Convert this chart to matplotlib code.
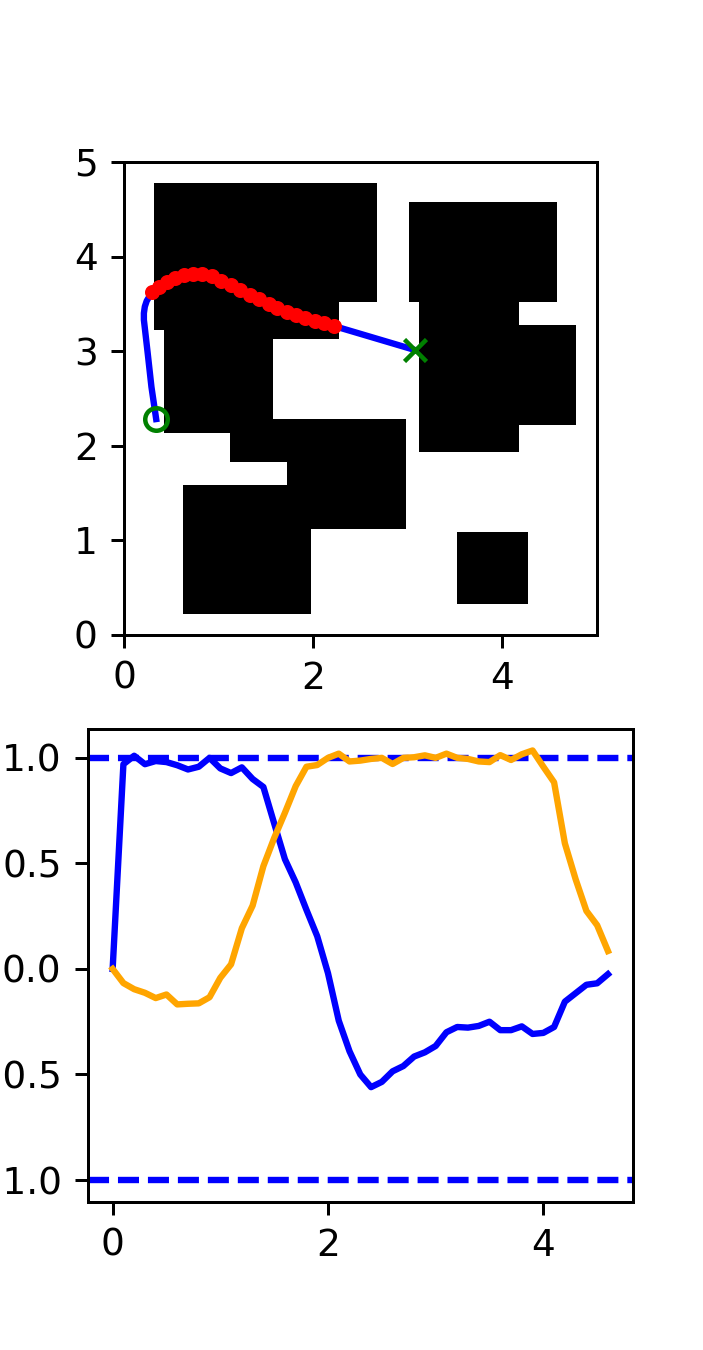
import numpy as np
import matplotlib
matplotlib.use("Agg")
import matplotlib.pyplot as plt
from matplotlib.patches import Rectangle

# obstacles as rectangles: x0, x1, y0, y1
obs_x0 = [0.32, 0.32, 0.42, 0.42, 1.12, 1.72, 0.62, 3.02, 3.12, 4.10, 3.52]
obs_x1 = [2.68, 2.27, 2.27, 1.58, 2.98, 2.98, 1.98, 4.58, 4.18, 4.78, 4.28]
obs_y0 = [3.52, 3.22, 3.13, 2.13, 1.83, 1.12, 0.22, 3.52, 1.93, 2.22, 0.32]
obs_y1 = [4.78, 4.00, 3.60, 3.20, 2.28, 2.28, 1.58, 4.58, 3.60, 3.28, 1.08]

# robot path so far
path_x = [0.34, 0.29, 0.25, 0.21, 0.21, 0.22, 0.24, 0.27, 0.30]
path_y = [2.28, 2.62, 2.98, 3.33, 3.40, 3.47, 3.53, 3.58, 3.62]

# predicted trajectory
pred_x = [0.30, 0.37, 0.45, 0.54, 0.63, 0.73, 0.82, 0.93, 1.03, 1.13, 1.23,
          1.33, 1.43, 1.53, 1.62, 1.72, 1.82, 1.92, 2.02, 2.12, 2.22]
pred_y = [3.62, 3.68, 3.73, 3.77, 3.80, 3.815, 3.815, 3.79, 3.745, 3.70, 3.645,
          3.595, 3.547, 3.50, 3.46, 3.415, 3.38, 3.35, 3.317, 3.293, 3.265]

start = (0.34, 2.28)
goal = (3.08, 3.01)

# control inputs over time
dt = 0.1
u1 = [0.0, 0.97, 1.01, 0.97, 0.985, 0.98, 0.965, 0.945, 0.958, 1.0,
      0.95, 0.928, 0.955, 0.90, 0.862, 0.69, 0.52, 0.41, 0.28, 0.155,
      -0.02, -0.245, -0.39, -0.50, -0.56, -0.535, -0.485, -0.46, -0.415, -0.395,
      -0.365, -0.30, -0.275, -0.278, -0.27, -0.25, -0.29, -0.29, -0.272, -0.308,
      -0.303, -0.275, -0.155, -0.115, -0.075, -0.068, -0.025]
u2 = [0.0, -0.067, -0.096, -0.113, -0.138, -0.121, -0.168, -0.165, -0.163, -0.134,
      -0.042, 0.022, 0.193, 0.30, 0.487, 0.62, 0.74, 0.866, 0.958, 0.966,
      1.0, 1.02, 0.983, 0.987, 0.995, 1.0, 0.971, 1.0, 1.003, 1.012,
      1.0, 1.02, 1.0, 0.995, 0.983, 0.98, 1.013, 0.99, 1.017, 1.035,
      0.958, 0.884, 0.595, 0.425, 0.275, 0.207, 0.085]
t = np.arange(len(u1)) * dt

fig, (ax1, ax2) = plt.subplots(2, 1, figsize=(703 / 270, 1350 / 270))

for x0, x1, y0, y1 in zip(obs_x0, obs_x1, obs_y0, obs_y1):
    ax1.add_patch(Rectangle((x0, y0), x1 - x0, y1 - y0, color="black", lw=0))

ax1.plot(path_x + pred_x + [goal[0]], path_y + pred_y + [goal[1]], "b-", lw=1.7)
ax1.plot(pred_x, pred_y, "ro", markersize=3)
ax1.plot(start[0], start[1], "go", mfc="none", mew=1.2)
ax1.plot(goal[0], goal[1], "gx", mew=1.2)
ax1.set_xlim(0, 5)
ax1.set_ylim(0, 5)
ax1.set_aspect("equal")

ax2.axhline(1, color="b", ls="--", lw=1.7, dashes=(3.3, 1.4))
ax2.axhline(-1, color="b", ls="--", lw=1.7, dashes=(3.3, 1.4))
ax2.plot(t, u1, "b-", lw=1.7)
ax2.plot(t, u2, color="orange", lw=1.7)

fig.savefig("out.png", dpi=270)
